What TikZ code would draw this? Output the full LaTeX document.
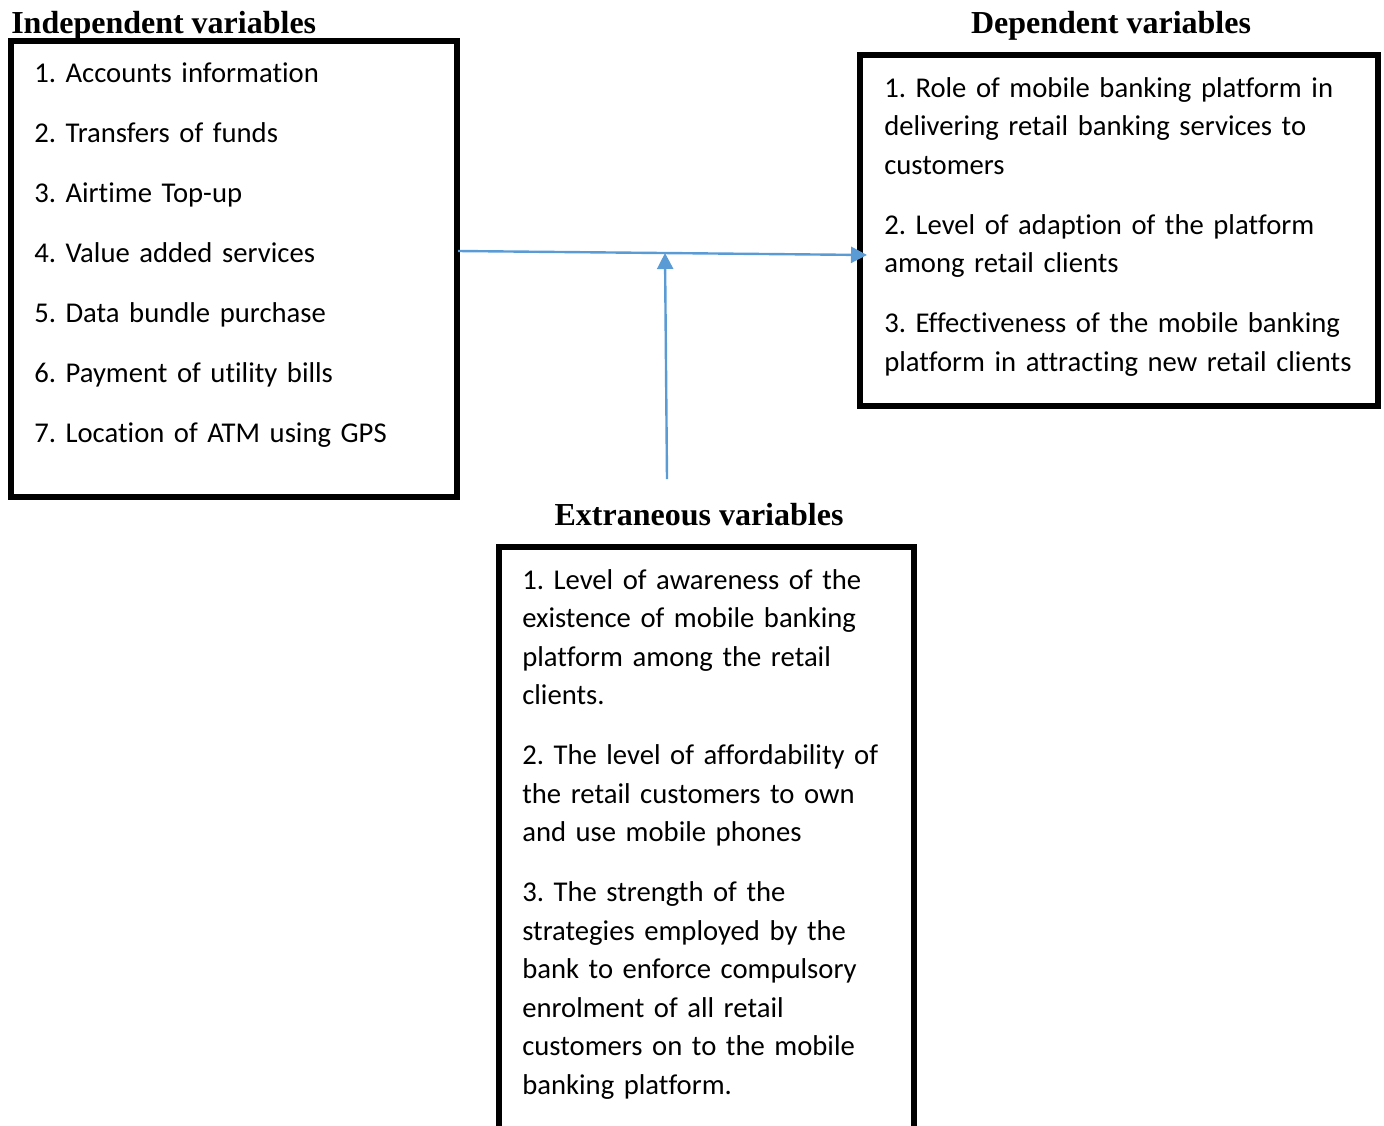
\documentclass[tikz,border=0pt]{standalone}
\usepackage{fontspec}
\setmainfont{Carlito}[Ligatures=NoCommon]
\newfontfamily\titlefont{Liberation Serif}
\usetikzlibrary{arrows.meta}
\definecolor{arrowblue}{HTML}{5B9BD5}
\frenchspacing
\tikzset{
  varbox/.style={draw=black, line width=4.5pt, inner sep=0pt, outer sep=0pt, anchor=north west},
  vartitle/.style={font=\titlefont\bfseries\fontsize{24}{28}\selectfont, inner sep=0pt},
  vartext/.style={font=\fontsize{21.5}{28.9}\selectfont, inner sep=0pt, text width=520pt, align=left, anchor=base west},
  flow/.style={draw=arrowblue, line width=1.8pt, -{Triangle[length=12pt,width=12pt]}}
}
\begin{document}
\begin{tikzpicture}[x=0.75pt,y=-0.75pt]
\useasboundingbox (0,0) rectangle (1384,1125);
\clip (0,0) rectangle (1384,1125);
% boxes
\node[varbox, minimum width=334.5pt, minimum height=342pt] (ind) at (11,41) {};
\node[varbox, minimum width=388.5pt, minimum height=263.25pt] (dep) at (860,55) {};
\node[varbox, minimum width=311.25pt, minimum height=450pt] (ext) at (499,547) {};
% titles
\node[vartitle, anchor=base west] (indt) at (11,33) {Independent variables};
\node[vartitle, anchor=base] (dept) at (1111,33) {Dependent variables};
\node[vartitle, anchor=base] (extt) at (699,525) {Extraneous variables};
% texts
\node[vartext] (indtext) at (34,82) {1. Accounts information\\[16.1pt]
2. Transfers of funds\\[16.1pt]
3. Airtime Top-up\\[16.1pt]
4. Value added services\\[16.1pt]
5. Data bundle purchase\\[16.1pt]
6. Payment of utility bills\\[16.1pt]
7. Location of ATM using GPS};
\node[vartext] (deptext) at (884,97) {1. Role of mobile banking platform in\\
delivering retail banking services to\\
customers\\[16.1pt]
2. Level of adaption of the platform\\
among retail clients\\[16.1pt]
3. Effectiveness of the mobile banking\\
platform in attracting new retail clients};
\node[vartext] (exttext) at (522,589) {1. Level of awareness of the\\
existence of mobile banking\\
platform among the retail\\
clients.\\[16.1pt]
2. The level of affordability of\\
the retail customers to own\\
and use mobile phones\\[16.1pt]
3. The strength of the\\
strategies employed by the\\
bank to enforce compulsory\\
enrolment of all retail\\
customers on to the mobile\\
banking platform.};
% connectors
\coordinate (hstart) at (458,251);
\coordinate (hend) at (867,255);
\coordinate (vstart) at (667,479);
\coordinate (vend) at (665,253);
\draw[flow] (hstart) -- (hend);
\draw[flow] (vstart) -- (vend);
\end{tikzpicture}
\end{document}
